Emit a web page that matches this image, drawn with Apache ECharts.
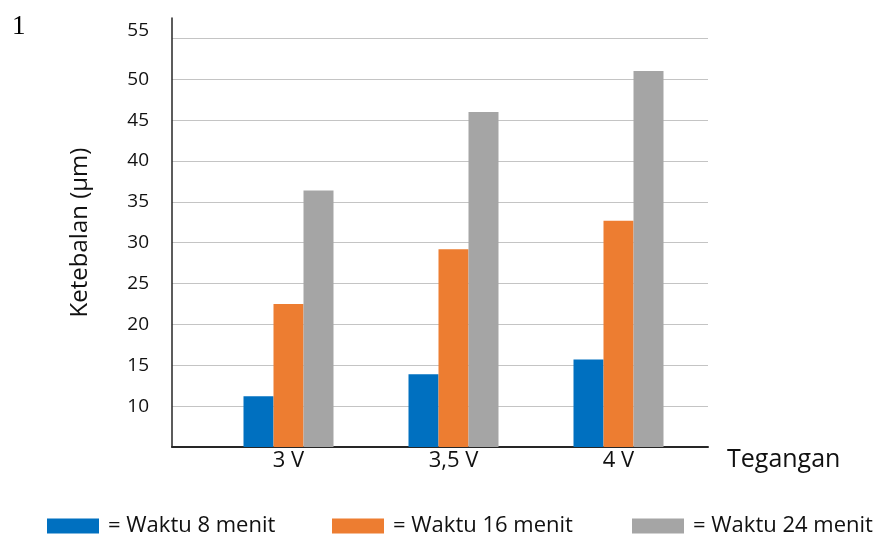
<!DOCTYPE html>
<html>
<head>
<meta charset="utf-8">
<script src="https://cdn.jsdelivr.net/npm/echarts@6/dist/echarts.min.js"></script>
<style>
  html, body { margin: 0; padding: 0; background: #fff; }
  #chart { width: 878px; height: 538px; }
</style>
</head>
<body>
<div id="chart"></div>
<script>
// Voltage groups on the x axis
const categories = ['3 V', '3,5 V', '4 V'];

// Coating thickness (µm) per anodizing time
const seriesNames = ['Waktu 8 menit', 'Waktu 16 menit', 'Waktu 24 menit'];
const waktu8 = [11.2, 13.9, 15.7];
const waktu16 = [22.5, 29.2, 32.7];
const waktu24 = [36.4, 46.0, 51.0];

// Value axis ticks
const yTickLabels = [10, 15, 20, 25, 30, 35, 40, 45, 50, 55];
const yMin = 5;
const yMax = 57.5;
const yStep = 5;

const colors = ['#0070C0', '#ED7D31', '#A5A5A5'];
const font = 'Open Sans';
const ink = '#111';

const chart = echarts.init(document.getElementById('chart'), null, { renderer: 'canvas' });

const legendLeft = [47, 332, 632];
const seriesData = [waktu8, waktu16, waktu24];

chart.setOption({
  animation: false,
  backgroundColor: '#fff',
  color: colors,
  title: {
    text: '1',
    left: 7,
    top: 8,
    textStyle: { fontFamily: 'Liberation Serif', fontSize: 27, fontWeight: 'normal', color: '#000' }
  },
  legend: seriesNames.map((name, i) => ({
    data: [name],
    left: legendLeft[i],
    top: 515,
    padding: 0,
    icon: 'rect',
    itemWidth: 52,
    itemHeight: 15,
    selectedMode: false,
    formatter: '= {name}',
    textStyle: { fontFamily: font, fontSize: 22, color: ink, padding: [0, 0, 0, 4] }
  })),
  grid: [
    { left: 172, right: 170, top: 18, bottom: 91 },
    { left: 206, right: 177, top: 18, bottom: 91 }
  ],
  xAxis: [
    {
      gridIndex: 0,
      type: 'category',
      data: categories,
      axisLine: { show: true, lineStyle: { color: '#262626', width: 2 } },
      axisTick: { show: false },
      axisLabel: { show: false },
      splitLine: { show: false },
      name: 'Tegangan',
      nameLocation: 'end',
      nameGap: 19,
      nameTextStyle: {
        fontFamily: font, fontSize: 25, color: ink,
        align: 'left', verticalAlign: 'top'
      }
    },
    {
      gridIndex: 1,
      type: 'category',
      data: categories,
      axisLine: { show: false },
      axisTick: { show: false },
      splitLine: { show: false },
      axisLabel: { fontFamily: font, fontSize: 22, color: ink, margin: 3 }
    }
  ],
  yAxis: [
    {
      gridIndex: 0,
      type: 'value',
      min: yMin,
      max: yMax,
      interval: yStep,
      axisLine: { show: true, lineStyle: { color: '#262626', width: 1.5 } },
      axisTick: { show: false },
      splitLine: {
        show: true,
        showMinLine: false,
        showMaxLine: false,
        lineStyle: { color: '#c4c4c4', width: 1.2 }
      },
      axisLabel: {
        margin: 23,
        fontFamily: font,
        fontSize: 19,
        color: ink,
        formatter: (v) => {
          if (!yTickLabels.includes(v)) return '';
          return v === 55 ? '{top|55}' : String(v);
        },
        rich: {
          top: { fontFamily: font, fontSize: 19, color: ink, padding: [0, 0, 15, 0] }
        }
      },
      name: 'Ketebalan (µm)',
      nameLocation: 'middle',
      nameGap: 80,
      nameRotate: 90,
      nameTextStyle: { fontFamily: font, fontSize: 24, color: ink }
    },
    {
      gridIndex: 1,
      type: 'value',
      min: yMin,
      max: yMax,
      interval: yStep,
      show: false,
      splitLine: { show: false }
    }
  ],
  series: seriesNames.map((name, i) => ({
    name: name,
    type: 'bar',
    xAxisIndex: 1,
    yAxisIndex: 1,
    data: seriesData[i],
    barWidth: 30,
    barGap: '0%',
    itemStyle: { color: colors[i] }
  }))
});
</script>
</body>
</html>
